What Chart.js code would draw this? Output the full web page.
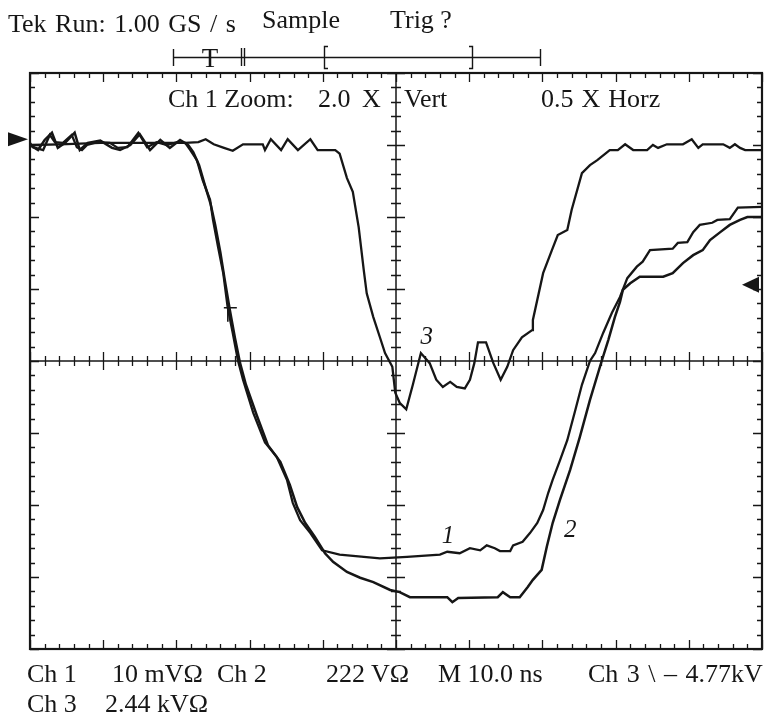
<!DOCTYPE html>
<html><head><meta charset="utf-8">
<script src="https://cdn.jsdelivr.net/npm/chart.js@4/dist/chart.umd.min.js"></script>
<style>
html,body{margin:0;padding:0;background:#fff;}
#wrap{position:relative;width:764px;height:717px;overflow:hidden;background:#fff;}
canvas{position:absolute;left:0;top:0;}
.t{position:absolute;font-family:"Liberation Serif","Times New Roman",serif;font-size:26px;line-height:26px;color:#161616;white-space:pre;}
</style></head><body>
<div id="wrap"><canvas id="c" width="764" height="717"></canvas></div>
<script>
// ---- data (horizontal and vertical in screen divisions) ----
const trace1X = [-5.00,-4.96,-4.82,-4.73,-4.66,-4.55,-4.43,-4.36,-4.29,-4.22,-4.08,-3.91,-3.80,-3.67,-3.52,-3.40,-3.27,-3.13,-2.99,-2.88,-2.81,-2.72,-2.64,-2.54,-2.50,-2.43,-2.36,-2.30,-2.23,-2.16,-2.09,-1.95,-1.79,-1.63,-1.49,-1.41,-1.31,-1.17,-1.01,-0.77,-0.22,0.15,0.60,0.70,0.87,1.01,1.15,1.24,1.35,1.42,1.56,1.60,1.73,1.83,1.93,2.01,2.08,2.14,2.24,2.34,2.45,2.54,2.65,2.72,2.83,2.95,3.06,3.16,3.29,3.37,3.47,3.78,3.85,3.98,4.06,4.15,4.32,4.39,4.56,4.67,5.00];
const trace1Y = [3.03,2.97,2.93,3.14,3.04,3.03,3.14,2.97,2.93,3.00,3.04,3.03,2.96,2.97,3.17,2.97,3.04,3.00,3.04,3.03,2.93,2.79,2.51,2.24,1.96,1.58,1.22,0.75,0.39,0.01,-0.26,-0.72,-1.13,-1.33,-1.65,-1.97,-2.21,-2.39,-2.63,-2.69,-2.74,-2.72,-2.69,-2.65,-2.67,-2.60,-2.63,-2.56,-2.60,-2.64,-2.64,-2.56,-2.51,-2.39,-2.25,-2.07,-1.83,-1.65,-1.38,-1.10,-0.68,-0.33,0.00,0.11,0.39,0.67,0.89,1.15,1.31,1.38,1.54,1.56,1.64,1.65,1.79,1.89,1.92,1.96,1.97,2.13,2.14];

const trace2X = [-5.00,-4.89,-4.80,-4.70,-4.62,-4.52,-4.39,-4.32,-4.21,-4.04,-3.88,-3.77,-3.63,-3.50,-3.36,-3.22,-3.09,-2.95,-2.84,-2.77,-2.69,-2.61,-2.53,-2.47,-2.40,-2.34,-2.27,-2.20,-2.13,-2.05,-1.90,-1.75,-1.58,-1.45,-1.35,-1.24,-1.11,-0.97,-0.86,-0.67,-0.49,-0.31,-0.08,0.05,0.19,0.70,0.77,0.85,1.39,1.46,1.56,1.69,1.80,1.87,1.99,2.06,2.14,2.24,2.38,2.51,2.65,2.81,2.90,2.99,3.06,3.10,3.20,3.33,3.65,3.78,3.92,4.06,4.19,4.29,4.43,4.56,4.70,4.80,5.00];
const trace2Y = [3.00,2.93,3.07,3.17,2.96,3.03,3.17,2.93,3.03,3.06,2.96,2.93,3.00,3.15,2.93,3.07,2.96,3.07,3.00,2.90,2.72,2.44,2.17,1.89,1.51,1.13,0.71,0.32,-0.03,-0.33,-0.76,-1.17,-1.40,-1.72,-2.03,-2.25,-2.44,-2.67,-2.79,-2.93,-3.01,-3.07,-3.18,-3.21,-3.28,-3.28,-3.35,-3.29,-3.28,-3.21,-3.28,-3.28,-3.14,-3.04,-2.90,-2.58,-2.25,-1.93,-1.51,-1.06,-0.54,0.00,0.29,0.61,0.82,0.99,1.08,1.17,1.17,1.22,1.36,1.47,1.54,1.68,1.79,1.89,1.96,2.00,2.00];

const trace3X = [-5.00,-4.59,-4.04,-3.36,-2.88,-2.70,-2.60,-2.49,-2.35,-2.23,-2.09,-1.82,-1.79,-1.71,-1.57,-1.48,-1.34,-1.17,-1.07,-0.83,-0.77,-0.67,-0.59,-0.51,-0.44,-0.40,-0.31,-0.22,-0.15,-0.05,-0.01,0.05,0.14,0.23,0.34,0.46,0.55,0.64,0.74,0.83,0.94,1.01,1.07,1.12,1.23,1.33,1.43,1.52,1.60,1.72,1.86,1.87,2.01,2.13,2.21,2.34,2.40,2.54,2.65,2.75,2.92,3.03,3.13,3.24,3.43,3.51,3.58,3.70,3.92,4.04,4.13,4.19,4.47,4.56,4.63,4.70,4.77,5.00];
const trace3Y = [3.00,3.01,3.03,3.03,3.03,3.04,3.08,3.01,2.96,2.92,3.01,3.01,2.93,3.08,2.93,3.08,2.93,3.08,2.93,2.93,2.88,2.54,2.35,1.86,1.26,0.94,0.61,0.33,0.11,-0.08,-0.44,-0.58,-0.67,-0.33,0.11,-0.03,-0.26,-0.36,-0.29,-0.36,-0.38,-0.26,-0.03,0.26,0.26,-0.03,-0.26,-0.08,0.15,0.33,0.43,0.57,1.22,1.54,1.75,1.82,2.10,2.61,2.72,2.79,2.93,2.93,3.01,2.93,2.93,3.00,2.96,3.01,3.01,3.08,2.96,3.01,3.01,2.96,3.01,2.96,2.93,2.93];

const traceNames = ["1", "2", "3"];
const traceLabelX = [0.71, 2.38, 0.42];
const traceLabelY = [-2.44, -2.35, 0.33];
const levelMarkerLeftY = 3.08;   // level arrow on left edge
const levelMarkerRightY = 1.06;  // trigger level arrow on right edge
const triggerMarkX = -2.27, triggerMarkY = 0.74;

const headerLine = ["Tek Run: 1.00 GS / s", "Sample", "Trig ?"];
const zoomLine = ["Ch 1 Zoom:", "2.0", "X", "Vert", "0.5 X Horz"];
const footerLine1 = ["Ch 1", "10 mVΩ", "Ch 2", "222 VΩ", "M 10.0 ns", "Ch 3 \\ – 4.77kV"];
const footerLine2 = ["Ch 3", "2.44 kVΩ"];

// ---- build ----
function pts(xs, ys){ return xs.map((x,i)=>({x:x, y:ys[i]})); }

const ink = "#161616";

const scopePlugin = {
  id: "scope",
  beforeDatasetsDraw(chart){
    const {ctx, chartArea:a, scales:{x, y}} = chart;
    ctx.save();
    ctx.strokeStyle = ink;
    const cx = x.getPixelForValue(0), cy = y.getPixelForValue(0);
    ctx.lineWidth = 1.5;
    ctx.beginPath();
    ctx.moveTo(a.left, cy); ctx.lineTo(a.right, cy);
    ctx.moveTo(cx, a.top); ctx.lineTo(cx, a.bottom);
    ctx.stroke();
    ctx.lineWidth = 1.3;
    ctx.beginPath();
    for (let i = 0; i <= 50; i++) {
      const v = -5 + i * 0.2;
      const px = Math.round(x.getPixelForValue(v)) + 0.5;
      const major = i % 5 === 0;
      const fl = major ? 9 : 5, cl = major ? 9 : 5;
      ctx.moveTo(px, a.top); ctx.lineTo(px, a.top + fl);
      ctx.moveTo(px, a.bottom); ctx.lineTo(px, a.bottom - fl);
      if (i !== 25) { ctx.moveTo(px, cy - cl); ctx.lineTo(px, cy + cl); }
    }
    for (let i = 0; i <= 40; i++) {
      const v = -4 + i * 0.2;
      const py = Math.round(y.getPixelForValue(v)) + 0.5;
      const major = i % 5 === 0;
      const fl = major ? 9 : 5, cl = major ? 9 : 5;
      ctx.moveTo(a.left, py); ctx.lineTo(a.left + fl, py);
      ctx.moveTo(a.right, py); ctx.lineTo(a.right - fl, py);
      if (i !== 20) { ctx.moveTo(cx - cl, py); ctx.lineTo(cx + cl, py); }
    }
    ctx.stroke();
    ctx.lineWidth = 2.2;
    ctx.strokeRect(a.left, a.top, a.right - a.left, a.bottom - a.top);
    ctx.restore();
  },
  afterDraw(chart){
    const {ctx, chartArea:a, scales:{x, y}} = chart;
    ctx.save();
    ctx.fillStyle = ink; ctx.strokeStyle = ink;
    let ay = y.getPixelForValue(levelMarkerLeftY);
    ctx.beginPath(); ctx.moveTo(a.left - 2, ay); ctx.lineTo(8, ay - 7); ctx.lineTo(8, ay + 7); ctx.closePath(); ctx.fill();
    ay = y.getPixelForValue(levelMarkerRightY);
    ctx.beginPath(); ctx.moveTo(a.right - 20, ay); ctx.lineTo(a.right - 3, ay - 8); ctx.lineTo(a.right - 3, ay + 8); ctx.closePath(); ctx.fill();
    const tx = x.getPixelForValue(triggerMarkX), ty = y.getPixelForValue(triggerMarkY);
    ctx.lineWidth = 1.6;
    ctx.beginPath(); ctx.moveTo(tx - 6, ty); ctx.lineTo(tx + 7, ty); ctx.moveTo(tx - 2, ty); ctx.lineTo(tx - 2, ty + 14); ctx.stroke();
    ctx.font = "italic 25px 'Liberation Serif', serif";
    ctx.textAlign = "center"; ctx.textBaseline = "middle";
    traceNames.forEach((n, i) => ctx.fillText(n, x.getPixelForValue(traceLabelX[i]), y.getPixelForValue(traceLabelY[i])));
    ctx.lineWidth = 1.4;
    ctx.beginPath();
    ctx.moveTo(173, 57.5); ctx.lineTo(540, 57.5);
    ctx.moveTo(173.5, 49); ctx.lineTo(173.5, 66);
    ctx.moveTo(540.5, 49); ctx.lineTo(540.5, 66);
    ctx.moveTo(241.5, 48); ctx.lineTo(241.5, 66);
    ctx.moveTo(244.5, 48); ctx.lineTo(244.5, 66);
    ctx.moveTo(328, 46.5); ctx.lineTo(324.5, 46.5); ctx.lineTo(324.5, 68.5); ctx.lineTo(328, 68.5);
    ctx.moveTo(469, 46.5); ctx.lineTo(472.5, 46.5); ctx.lineTo(472.5, 68.5); ctx.lineTo(469, 68.5);
    ctx.stroke();
    ctx.font = "27px 'Liberation Serif', serif";
    ctx.textAlign = "center"; ctx.textBaseline = "alphabetic";
    ctx.fillText("T", 210, 67);
    ctx.restore();
  }
};

const ds = (xs, ys, w) => ({ data: pts(xs, ys), borderColor: ink, borderWidth: w, pointRadius: 0, tension: 0, fill: false });

new Chart(document.getElementById("c"), {
  type: "line",
  data: { datasets: [ ds(trace3X, trace3Y, 2.3), ds(trace1X, trace1Y, 2.3), ds(trace2X, trace2Y, 2.5) ] },
  options: {
    responsive: false, animation: false, devicePixelRatio: 1,
    layout: { padding: { left: 30, top: 73, right: 2, bottom: 68 } },
    scales: {
      x: { type: "linear", min: -5, max: 5, display: false },
      y: { type: "linear", min: -4, max: 4, display: false }
    },
    plugins: { legend: { display: false }, tooltip: { enabled: false } }
  },
  plugins: [scopePlugin]
});

// ---- real text overlays ----
const wrap = document.getElementById("wrap");
function put(txt, left, baseline, ws){
  const s = 26;
  const d = document.createElement("div");
  d.className = "t";
  d.textContent = txt;
  d.style.left = left + "px";
  d.style.top = (baseline - 0.8375 * s) + "px";
  if (ws) d.style.wordSpacing = ws + "px";
  wrap.appendChild(d);
}
const hdrLeft = [8, 262, 390];
headerLine.forEach((t,i)=>put(t, hdrLeft[i], i === 0 ? 33 : 29, i === 0 ? 2 : 0));
const zoomLeft = [168, 318, 362, 404, 541];
zoomLine.forEach((t,i)=>put(t, zoomLeft[i], 108, i === 4 ? 1.5 : 0));
const f1Left = [27, 112, 217, 326, 438, 588];
footerLine1.forEach((t,i)=>put(t, f1Left[i], 683, i === 5 ? 2 : 0));
const f2Left = [27, 105];
footerLine2.forEach((t,i)=>put(t, f2Left[i], 713));
</script>
</body></html>
